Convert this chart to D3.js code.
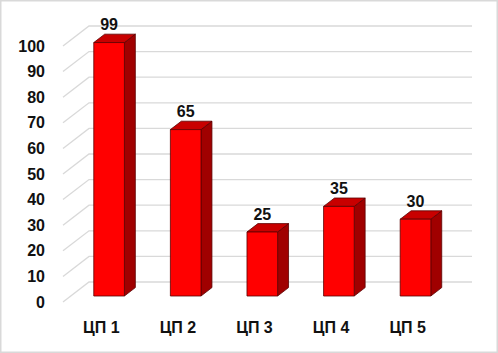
<!DOCTYPE html>
<html><head><meta charset="utf-8">
<script src="https://cdn.jsdelivr.net/npm/d3@7"></script>
<style>html,body{margin:0;padding:0;background:#fff;}svg{display:block;}</style>
</head><body>
<svg id="c" width="498" height="353"></svg>
<script>
const categories = ["ЦП 1","ЦП 2","ЦП 3","ЦП 4","ЦП 5"];
const values = [99, 65, 25, 35, 30];
const yTicks = [0,10,20,30,40,50,60,70,80,90,100];

const svg = d3.select("#c");
const W = 498, H = 353;
svg.append("rect").attr("x",0.75).attr("y",0.75).attr("width",W-1.5).attr("height",H-1.5)
  .attr("fill","#fff").attr("stroke","#d9d9d9").attr("stroke-width",1.5);

// front plane scales
const x = d3.scaleBand().domain(categories).range([63, 446]).paddingInner(0.6).paddingOuter(0.3);
const y = d3.scaleLinear().domain([0,100]).range([302, 46]);
const DX = 26, DY = -20; // depth vector to back wall
const P = (px, v, d) => [px + d*DX, y(v) + d*DY];

const font = "'Liberation Sans', Arial, sans-serif";

// gridlines: left wall diagonals + back wall lines
const g = svg.append("g");
yTicks.forEach(t => {
  const a = P(63, t, 0), b = P(63, t, 1), c = P(446, t, 1);
  g.append("path").attr("d", `M${a[0]},${a[1]}L${b[0]},${b[1]}L${c[0]},${c[1]}`)
    .attr("fill","none").attr("stroke","#d9d9d9").attr("stroke-width",1.3);
});

// y tick labels
svg.append("g").selectAll("text").data(yTicks).join("text")
  .attr("x",45).attr("y",d=>y(d)).attr("dy","0.35em")
  .attr("text-anchor","end").attr("font-family",font).attr("font-weight","bold")
  .attr("font-size",16).attr("fill","#111").text(d=>d);

// bars
const d0 = 0.3, d1 = 0.72;
const bars = svg.append("g");
categories.forEach((cat,i) => {
  const v = values[i];
  const xl = x(cat), xr = x(cat) + x.bandwidth();
  const fbl = P(xl,0,d0), fbr = P(xr,0,d0), ftl = P(xl,v,d0), ftr = P(xr,v,d0);
  const btl = P(xl,v,d1), btr = P(xr,v,d1), bbr = P(xr,0,d1);
  const poly = pts => "M" + pts.map(p=>p.join(",")).join("L") + "Z";
  // side
  bars.append("path").attr("d", poly([fbr, ftr, btr, bbr]))
    .attr("fill","#a00000").attr("stroke","#5a0000").attr("stroke-width",0.8);
  // top
  bars.append("path").attr("d", poly([ftl, ftr, btr, btl]))
    .attr("fill","#c80000").attr("stroke","#5a0000").attr("stroke-width",0.8);
  // front
  bars.append("path").attr("d", poly([fbl, fbr, ftr, ftl]))
    .attr("fill","#ff0000").attr("stroke","#5a0000").attr("stroke-width",0.8);
  // value label
  const c = P(xl + x.bandwidth()/2, v, d0);
  svg.append("text").attr("x",c[0]).attr("y",c[1]-18).attr("dy","0.35em")
    .attr("text-anchor","middle").attr("font-family",font).attr("font-weight","bold")
    .attr("font-size",16).attr("fill","#111").text(v);
});

// category labels
svg.append("g").selectAll("text").data(categories).join("text")
  .attr("x",d=>x(d)+x.bandwidth()/2).attr("y",327).attr("dy","0.35em")
  .attr("text-anchor","middle").attr("font-family",font).attr("font-weight","bold")
  .attr("font-size",16).attr("fill","#111").text(d=>d);
</script>
</body></html>
